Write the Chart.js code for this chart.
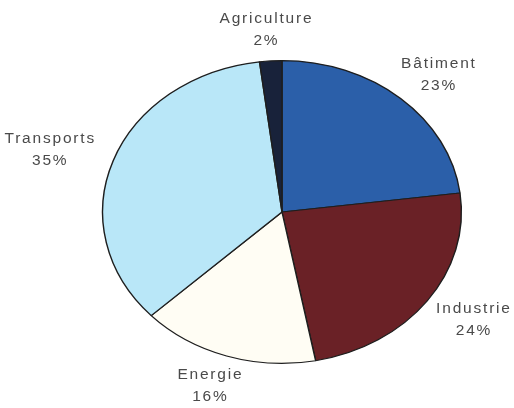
<!DOCTYPE html>
<html>
<head>
<meta charset="utf-8">
<script src="https://cdn.jsdelivr.net/npm/chart.js@4/dist/chart.umd.min.js"></script>
<style>
  html, body { margin: 0; padding: 0; background: #fff; }
  #wrap { width: 514px; height: 408px; }
</style>
</head>
<body>
<div id="wrap"><canvas id="pie"></canvas></div>
<script>
// Data, clockwise from the top
const categories = ['Bâtiment', 'Industrie', 'Energie', 'Transports', 'Agriculture'];
const shares = [23, 24, 16, 35, 2];
const sliceColors = ['#2b5fa9', '#6a2126', '#fffdf4', '#b9e7f8', '#18223a'];

// horizontal stretch: the reference pie is an ellipse
const stretchX = 1.185;

const ellipsePlugin = {
    id: 'ellipse',
    beforeDatasetsDraw(chart) {
        const arc = chart.getDatasetMeta(0).data[0];
        const ctx = chart.ctx;
        ctx.save();
        ctx.translate(arc.x, arc.y);
        ctx.scale(stretchX, 1);
        ctx.translate(-arc.x, -arc.y);
    },
    afterDatasetsDraw(chart) {
        chart.ctx.restore();
    }
};

// two-line labels, the edge nearest the pie sits just outside the rim
const labelPlugin = {
    id: 'sliceLabels',
    afterDraw(chart) {
        const ctx = chart.ctx;
        const meta = chart.getDatasetMeta(0);
        const lineGap = 22;
        const halfH = 19;
        ctx.save();
        ctx.font = '15.5px "Liberation Sans", Arial, sans-serif';
        ctx.fillStyle = '#4a4a4a';
        ctx.textAlign = 'center';
        ctx.textBaseline = 'middle';
        ctx.letterSpacing = '1.8px';
        meta.data.forEach((arc, i) => {
            const mid = (arc.startAngle + arc.endAngle) / 2;
            const r = arc.outerRadius * 1.08;
            const halfW = Math.max(ctx.measureText(categories[i]).width, ctx.measureText(shares[i] + '%').width) / 2;
            const x = arc.x + Math.cos(mid) * (r * stretchX + halfW * 1.15);
            const y = arc.y + Math.sin(mid) * (r + halfH);
            ctx.fillText(categories[i], x, y - lineGap / 2);
            ctx.fillText(shares[i] + '%', x, y + lineGap / 2);
        });
        ctx.restore();
    }
};

new Chart(document.getElementById('pie'), {
    type: 'pie',
    data: {
        labels: categories,
        datasets: [{
            data: shares,
            backgroundColor: sliceColors,
            borderColor: '#1e1e1e',
            borderWidth: 1.2
        }]
    },
    options: {
        responsive: true,
        maintainAspectRatio: false,
        animation: false,
        layout: { padding: { top: 60, bottom: 44, left: 100, right: 50 } },
        plugins: {
            legend: { display: false },
            tooltip: { enabled: false }
        }
    },
    plugins: [ellipsePlugin, labelPlugin]
});
</script>
</body>
</html>
